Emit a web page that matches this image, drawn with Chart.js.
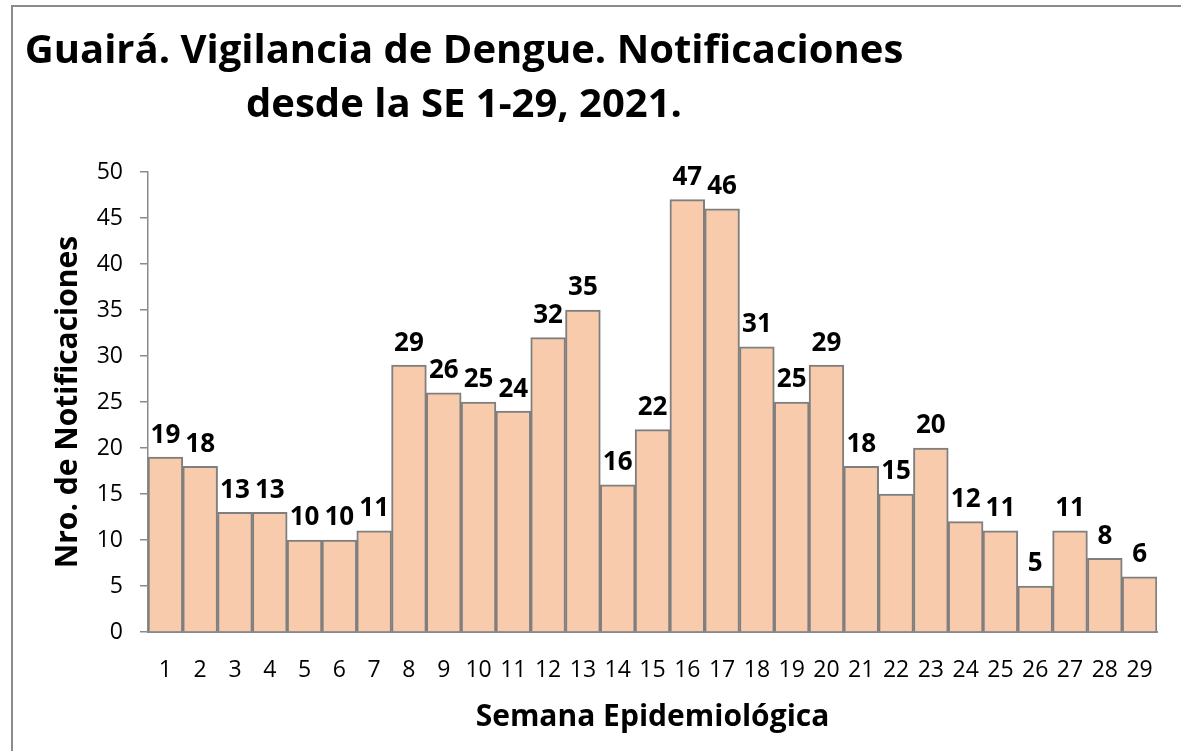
<!DOCTYPE html>
<html>
<head>
<meta charset="utf-8">
<script src="https://cdn.jsdelivr.net/npm/chart.js@4"></script>
<style>
  body { margin: 0; background: #fff; }
  #wrap { position: relative; width: 1181px; height: 751px; overflow: hidden; }
  #frame { position: absolute; left: 11px; top: 5px; width: 1300px; height: 900px;
           border-top: 2px solid #8c8c8c; border-left: 2px solid #8c8c8c; }
  canvas { position: absolute; left: 0; top: 0; }
</style>
</head>
<body>
<div id="wrap">
  <div id="frame"></div>
  <canvas id="chart" width="1181" height="751"></canvas>
</div>
<script>
const semanas = ["1","2","3","4","5","6","7","8","9","10","11","12","13","14","15",
                 "16","17","18","19","20","21","22","23","24","25","26","27","28","29"];
const notificaciones = [19, 18, 13, 13, 10, 10, 11, 29, 26, 25, 24, 32, 35, 16, 22,
                        47, 46, 31, 25, 29, 18, 15, 20, 12, 11, 5, 11, 8, 6];
const tituloLineas = ["Guairá. Vigilancia de Dengue. Notificaciones", "desde la SE 1-29, 2021."];
const tituloX = "Semana Epidemiológica";
const tituloY = "Nro. de Notificaciones";

const FONT = "'Open Sans', 'Noto Sans', sans-serif";

// titulo en dos lineas, centrado un poco a la izquierda como en el original
const titlePlugin = {
    id: "titulo2",
    afterDraw(chart) {
        const ctx = chart.ctx;
        ctx.save();
        ctx.fillStyle = "#000";
        ctx.font = "bold 40px " + FONT;
        ctx.textAlign = "center";
        ctx.textBaseline = "alphabetic";
        ctx.fillText(tituloLineas[0], 464, 63);
        ctx.fillText(tituloLineas[1], 464, 117);
        ctx.restore();
    }
};

// etiquetas de valor encima de cada barra
const valuePlugin = {
    id: "valores",
    afterDatasetsDraw(chart) {
        const ctx = chart.ctx;
        const meta = chart.getDatasetMeta(0);
        ctx.save();
        ctx.fillStyle = "#000";
        ctx.font = "bold 26px " + FONT;
        ctx.textAlign = "center";
        ctx.textBaseline = "bottom";
        meta.data.forEach((bar, i) => {
            ctx.fillText(String(notificaciones[i]), bar.x, bar.y - 9);
        });
        ctx.restore();
    }
};

const ctx = document.getElementById("chart").getContext("2d");
new Chart(ctx, {
    type: "bar",
    data: {
        labels: semanas,
        datasets: [{
            data: notificaciones,
            backgroundColor: "#F8CBAD",
            borderColor: "#7f7f7f",
            borderWidth: 2,
            categoryPercentage: 1.0,
            barPercentage: 1.0
        }]
    },
    options: {
        responsive: false,
        animation: false,
        layout: { padding: { top: 172, right: 24, left: 46, bottom: 12 } },
        plugins: {
            legend: { display: false },
            tooltip: { enabled: false }
        },
        scales: {
            x: {
                grid: { display: false, drawTicks: false },
                border: { color: "#8a8a8a", width: 2 },
                ticks: {
                    color: "#000",
                    font: { family: FONT, size: 23 },
                    autoSkip: false,
                    maxRotation: 0,
                    padding: 25
                },
                title: {
                    display: true,
                    text: tituloX,
                    color: "#000",
                    font: { family: FONT, size: 30, weight: "bold" },
                    padding: { top: 8 }
                },
                afterFit(scale) { scale.height = 107; }
            },
            y: {
                min: 0,
                max: 50,
                grid: { drawOnChartArea: false, drawTicks: true, tickLength: 8, color: "#8a8a8a", lineWidth: 1.5 },
                border: { color: "#8a8a8a", width: 1.5 },
                ticks: {
                    stepSize: 5,
                    color: "#000",
                    font: { family: FONT, size: 23 },
                    padding: 17
                },
                title: {
                    display: true,
                    text: tituloY,
                    color: "#000",
                    font: { family: FONT, size: 30, weight: "bold" },
                    padding: { bottom: 4 }
                },
                afterFit(scale) { scale.width = 102; }
            }
        }
    },
    plugins: [titlePlugin, valuePlugin]
});
</script>
</body>
</html>
